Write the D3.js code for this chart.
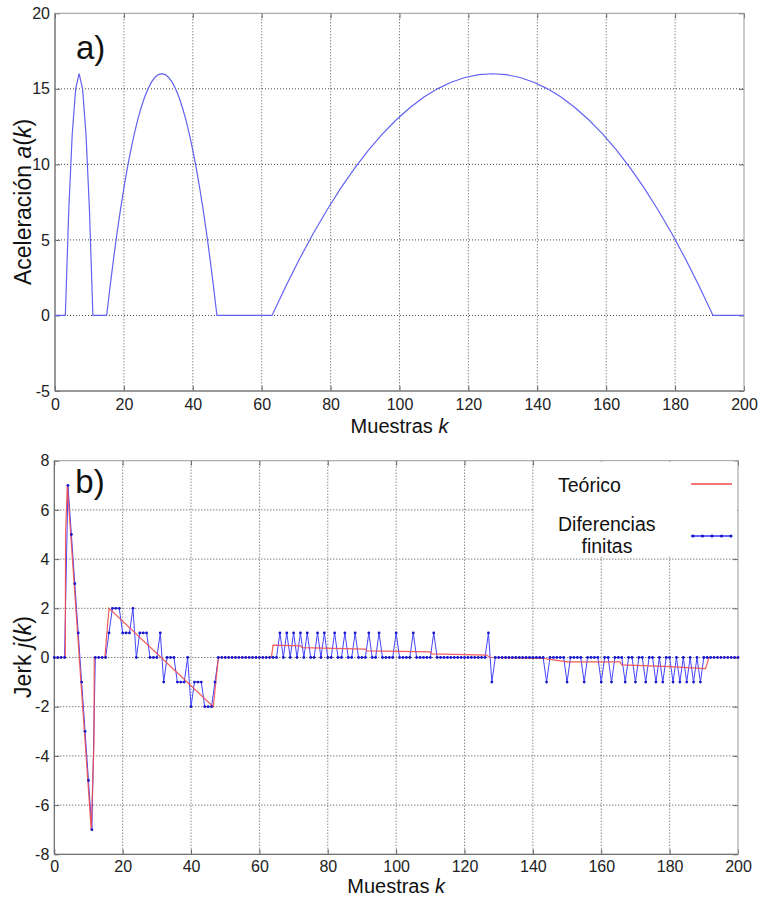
<!DOCTYPE html>
<html>
<head>
<meta charset="utf-8">
<script src="https://cdn.jsdelivr.net/npm/d3@7"></script>
<style>
  body { margin: 0; background: #fff; }
  svg { display: block; font-family: "Liberation Sans", Arial, sans-serif; }
</style>
</head>
<body>
<div id="canvas"></div>
<script>
// --- data ---
const xTicks = [0, 20, 40, 60, 80, 100, 120, 140, 160, 180, 200];
const accTicks = [-5, 0, 5, 10, 15, 20];
const jerkTicks = [-8, -6, -4, -2, 0, 2, 4, 6, 8];

// a) acceleration a(k)
const accK = [0, 3, 4, 5, 6, 7, 8, 9, 10, 11, 15,
  16, 17, 18, 19, 20, 21, 22, 23, 24, 25, 26, 27, 28, 29, 30, 31,
  32, 33, 34, 35, 36, 37, 38, 39, 40, 41, 42, 43, 44, 45, 46, 47, 63,
  67, 71, 75, 79, 83, 87, 91, 95, 99, 103, 107, 111, 115, 119, 123, 127,
  131, 135, 139, 143, 147, 151, 155, 159, 163, 167, 171, 175, 179, 183, 187, 191, 200];
const accV = [0, 0, 7, 12, 15, 16, 15, 12, 7, 0, 0,
  1.94, 3.75, 5.44, 7, 8.44, 9.75, 10.94, 12, 12.94, 13.75, 14.44, 15, 15.44, 15.75, 15.94, 16,
  15.94, 15.75, 15.44, 15, 14.44, 13.75, 12.94, 12, 10.94, 9.75, 8.44, 7, 5.44, 3.75, 1.94, 0, 0,
  1.94, 3.75, 5.44, 7, 8.44, 9.75, 10.94, 12, 12.94, 13.75, 14.44, 15, 15.44, 15.75, 15.94, 16,
  15.94, 15.75, 15.44, 15, 14.44, 13.75, 12.94, 12, 10.94, 9.75, 8.44, 7, 5.44, 3.75, 1.94, 0, 0];

// b) jerk, finite differences (one value per sample k = 0..200)
const jerkDiff = [
  0, 0, 0, 0, 7, 5, 3, 1, -1, -3, -5, -7, 0, 0, 0, 0, 1, 2, 2, 2,
  1, 1, 1, 2, 0, 1, 1, 1, 0, 0, 0, 1, -1, 0, 0, 0, -1, -1, -1, 0,
  -2, -1, -1, -1, -2, -2, -2, -1, 0, 0, 0, 0, 0, 0, 0, 0, 0, 0, 0, 0,
  0, 0, 0, 0, 0, 0, 1, 0, 1, 0, 1, 0, 1, 0, 1, 0, 0, 1, 0, 1,
  0, 0, 1, 0, 0, 1, 0, 0, 1, 0, 0, 0, 1, 0, 0, 1, 0, 0, 0, 0,
  1, 0, 0, 0, 0, 1, 0, 0, 0, 0, 0, 1, 0, 0, 0, 0, 0, 0, 0, 0,
  0, 0, 0, 0, 0, 0, 0, 1, -1, 0, 0, 0, 0, 0, 0, 0, 0, 0, 0, 0,
  0, 0, 0, 0, -1, 0, 0, 0, 0, 0, -1, 0, 0, 0, 0, -1, 0, 0, 0, 0,
  -1, 0, 0, -1, 0, 0, 0, -1, 0, 0, -1, 0, 0, -1, 0, 0, -1, 0, -1, 0,
  0, -1, 0, -1, 0, -1, 0, -1, 0, -1, 0, 0, 0, 0, 0, 0, 0, 0, 0, 0,
  0];

// b) jerk, theoretical
const jerkTeoK = [0, 3.2, 3.3, 3.8, 10.8, 11.6, 11.7, 14.8, 16, 46.5, 48, 63.5, 64, 72, 72.5,
  91, 91.5, 110, 110.5, 126.5, 127.4, 143, 146, 150, 165.5, 166, 180, 190.5, 191.5, 200];
const jerkTeoV = [0, 0, 5, 7, -7, -3.5, 0, 0, 2, -2, 0, 0, 0.5, 0.47, 0.4,
  0.34, 0.27, 0.23, 0.15, 0.1, 0, -0.04, -0.1, -0.18, -0.18, -0.3, -0.37, -0.45, 0, 0];

const legendLabels = ['Teórico', 'Diferencias', 'finitas'];

// --- drawing ---
const width = 762, height = 905;
const svg = d3.select('#canvas').append('svg')
  .attr('width', width).attr('height', height);

function drawFrame(x, y, yTicks, xPad, yLabelParts, yLabelY, xLabelY, tag, tagY) {
  const [x0, x1] = x.range();
  const [y1, y0] = y.range();
  const g = svg.append('g');

  // dotted grid
  g.selectAll('.vg').data(xTicks.slice(1, -1)).enter().append('line')
    .attr('x1', d => x(d)).attr('x2', d => x(d))
    .attr('y1', y0).attr('y2', y1)
    .attr('stroke', '#555').attr('stroke-width', 1).attr('stroke-dasharray', '1,2');
  g.selectAll('.hg').data(yTicks.slice(1, -1)).enter().append('line')
    .attr('x1', x0).attr('x2', x1)
    .attr('y1', d => y(d)).attr('y2', d => y(d))
    .attr('stroke', '#444').attr('stroke-width', 1).attr('stroke-dasharray', '1,2');

  const fmt = d => String(d); // plain hyphen minus, as in the figure
  const ax = (gen, tr) => {
    const a = g.append('g').attr('transform', tr).call(gen);
    a.select('.domain').remove();
    a.selectAll('line').attr('stroke', '#666');
    a.selectAll('text').attr('font-size', 16).attr('fill', '#222')
      .attr('font-family', '"Liberation Sans", Arial, sans-serif');
    return a;
  };
  ax(d3.axisBottom(x).tickValues(xTicks).tickSize(-5).tickPadding(xPad).tickFormat(fmt), `translate(0,${y1})`);
  ax(d3.axisTop(x).tickValues(xTicks).tickSize(-5).tickFormat(''), `translate(0,${y0})`);
  ax(d3.axisLeft(y).tickValues(yTicks).tickSize(-5).tickPadding(5).tickFormat(fmt), `translate(${x0},0)`);
  ax(d3.axisRight(y).tickValues(yTicks).tickSize(-5).tickFormat(''), `translate(${x1},0)`);

  g.append('rect').attr('x', x0).attr('y', y0).attr('width', x1 - x0).attr('height', y1 - y0)
    .attr('fill', 'none').attr('stroke', '#999');
  g.append('line').attr('x1', x0).attr('x2', x0).attr('y1', y0).attr('y2', y1).attr('stroke', '#666');
  g.append('line').attr('x1', x0).attr('x2', x1).attr('y1', y1).attr('y2', y1).attr('stroke', '#666');

  // x label
  const xl = svg.append('text').attr('x', (x0 + x1) / 2).attr('y', xLabelY)
    .attr('text-anchor', 'middle').attr('font-size', 20).attr('fill', '#111');
  xl.append('tspan').text('Muestras ');
  xl.append('tspan').attr('font-style', 'italic').text('k');

  // y label
  const yl = svg.append('text').attr('transform', `translate(31,${yLabelY}) rotate(-90)`)
    .attr('text-anchor', 'middle').attr('font-size', 23).attr('fill', '#111');
  yLabelParts.forEach(p => yl.append('tspan').attr('font-style', p[1] ? 'italic' : null).text(p[0]));

  svg.append('text').attr('x', x0 + 21).attr('y', tagY).attr('font-size', 33).attr('fill', '#111').text(tag);
}

// a) acceleration
const xa = d3.scaleLinear().domain([0, 200]).range([55, 744]);
const ya = d3.scaleLinear().domain([-5, 20]).range([391, 13.3]);
drawFrame(xa, ya, accTicks, 8,
  [['Aceleración '], ['a', true], ['('], ['k', true], [')']], 202, 433, 'a)', 59);

svg.append('path').datum(accK.map((k, i) => [k, accV[i]]))
  .attr('fill', 'none').attr('stroke', '#6262f2').attr('stroke-width', 1.2)
  .attr('d', d3.line().x(d => xa(d[0])).y(d => ya(d[1])));

// b) jerk
const xb = d3.scaleLinear().domain([0, 200]).range([54.3, 738]);
const yb = d3.scaleLinear().domain([-8, 8]).range([854.3, 460.7]);
drawFrame(xb, yb, jerkTicks, 6,
  [['Jerk '], ['j', true], ['('], ['k', true], [')']], 657, 893, 'b)', 493);

const diffPts = jerkDiff.map((v, k) => [k, v]);
const lineB = d3.line().x(d => xb(d[0])).y(d => yb(d[1]));
svg.append('path').datum(diffPts)
  .attr('fill', 'none').attr('stroke', '#4444ff').attr('stroke-width', 1).attr('d', lineB);
svg.append('path').datum(jerkTeoK.map((k, i) => [k, jerkTeoV[i]]))
  .attr('fill', 'none').attr('stroke', '#ef4a4a').attr('stroke-width', 1.2).attr('opacity', 0.9).attr('d', lineB);
svg.append('g').selectAll('circle').data(diffPts).enter().append('circle')
  .attr('cx', d => xb(d[0])).attr('cy', d => yb(d[1])).attr('r', 1.4).attr('fill', '#1818c8');

// legend
const lg = svg.append('g');
lg.append('rect').attr('x', 534).attr('y', 461.5).attr('width', 203).attr('height', 95).attr('fill', '#fff');
lg.append('text').attr('x', 558).attr('y', 492).attr('font-size', 19.5).attr('fill', '#111').text(legendLabels[0]);
lg.append('text').attr('x', 558).attr('y', 531).attr('font-size', 19.5).attr('fill', '#111').text(legendLabels[1]);
lg.append('text').attr('x', 607).attr('y', 553).attr('text-anchor', 'middle').attr('font-size', 19.5).attr('fill', '#111').text(legendLabels[2]);
lg.append('line').attr('x1', 691).attr('x2', 732).attr('y1', 484).attr('y2', 484)
  .attr('stroke', '#ef4a4a').attr('stroke-width', 1.3);
lg.append('line').attr('x1', 691).attr('x2', 732).attr('y1', 536).attr('y2', 536)
  .attr('stroke', '#3030ff').attr('stroke-width', 1.5);
lg.selectAll('.ld').data([0, 1, 2, 3, 4]).enter().append('circle')
  .attr('cx', d => 693 + d * 9.5).attr('cy', 536).attr('r', 1.6).attr('fill', '#1818c8');
</script>
</body>
</html>
